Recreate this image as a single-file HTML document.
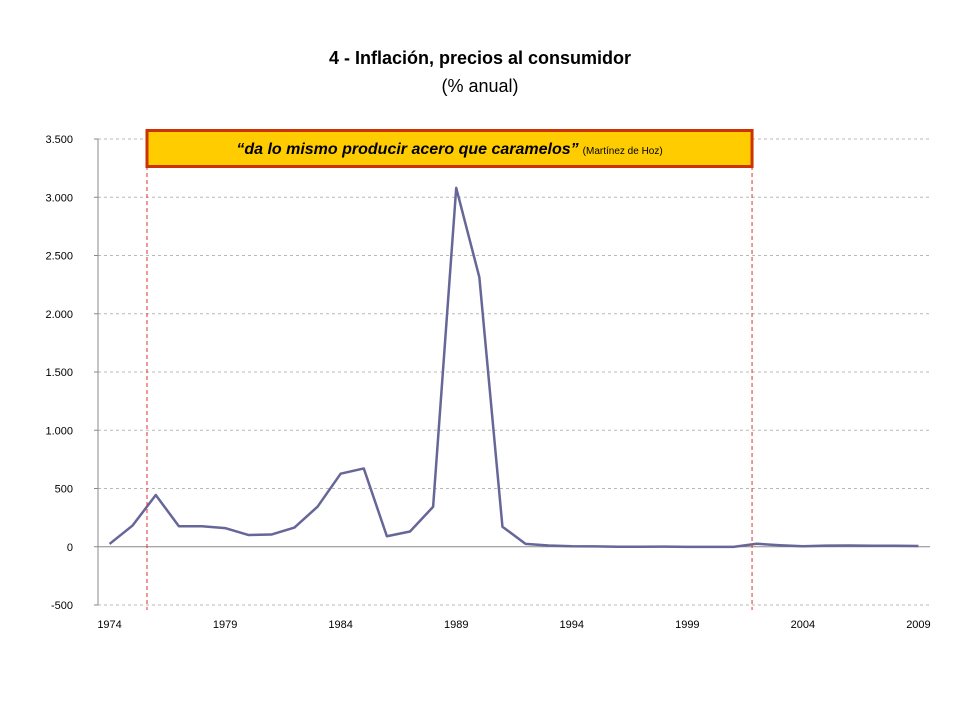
<!DOCTYPE html>
<html><head><meta charset="utf-8"><style>
body{margin:0;background:#fff;width:960px;height:720px;overflow:hidden}
text{font-family:"Liberation Sans",sans-serif}
</style></head><body>
<svg id="chart" width="960" height="720">
<text x="480" y="64" text-anchor="middle" font-size="18" font-weight="bold">4 - Inflación, precios al consumidor</text>
<text x="480" y="92" text-anchor="middle" font-size="18">(% anual)</text>
<g id="grid"></g><g id="axes"></g><g id="marks"></g><g id="annot"></g>
</svg>
<script>
const years=[1974,1975,1976,1977,1978,1979,1980,1981,1982,1983,1984,1985,1986,1987,1988,1989,1990,1991,1992,1993,1994,1995,1996,1997,1998,1999,2000,2001,2002,2003,2004,2005,2006,2007,2008,2009];
const inflation=[24,183,444,176,176,160,101,105,165,344,627,672,90,131,343,3080,2314,172,25,11,4,3,0,0.5,1,-1,-1,-1,26,13,4,10,11,9,9,6];
const yTicks=[-500,0,500,1000,1500,2000,2500,3000,3500];
const yTickLabels=["-500","0","500","1.000","1.500","2.000","2.500","3.000","3.500"];
const xTickLabels=["1974","1979","1984","1989","1994","1999","2004","2009"];
const eventYears=[1975.62,2001.8];
const NS="http://www.w3.org/2000/svg";
const L=98,R=930,T=139,B=605;
const catW=(R-L)/years.length;
const x=yr=>L+catW*(yr-years[0]+0.5);
const y=v=>B-(v+500)/4000*(B-T);
function mk(tag,attrs,parent){const e=document.createElementNS(NS,tag);for(const k in attrs)e.setAttribute(k,attrs[k]);document.getElementById(parent).appendChild(e);return e;}
yTicks.forEach((t,i)=>{
 if(t!==0){const g=mk('line',{x1:L,x2:R,y1:y(t),y2:y(t),stroke:'#b8b8b8','stroke-dasharray':'3,3'},'grid');
 
 }
 const tk=mk('line',{x1:L-4,x2:L,y1:y(t),y2:y(t),stroke:'#888'},'axes');
 
 
 const lb=mk('text',{x:L-25,y:y(t)+4,'text-anchor':'end','font-size':11},'axes');
 lb.textContent=yTickLabels[i];
 
 
});
const ya=mk('line',{x1:L,x2:L,y1:T,y2:B,stroke:'#888'},'axes');


const xa=mk('line',{x1:L,x2:R,y1:y(0),y2:y(0),stroke:'#888'},'axes');


xTickLabels.forEach(s=>{
 const lb=mk('text',{x:x(+s),y:628,'text-anchor':'middle','font-size':11},'axes');
 lb.textContent=s;
 
 
});
eventYears.forEach(ev=>{
 const l=mk('line',{x1:x(ev),x2:x(ev),y1:166,y2:610,stroke:'#dd3333','stroke-dasharray':'4,3'},'annot');
 
 
});
const pl=mk('polyline',{points:years.map((yr,i)=>x(yr)+','+y(inflation[i])).join(' '),fill:'none',stroke:'#666699','stroke-width':2.5,'stroke-linejoin':'round'},'marks');


const bx=x(eventYears[0]),bw=x(eventYears[1])-bx;
const box=mk('rect',{x:bx,y:130.5,width:bw,height:36,fill:'#ffcc00',stroke:'#cc3300','stroke-width':3},'annot');


const q=mk('text',{x:bx+bw/2,y:154,'text-anchor':'middle','font-size':15},'annot');


q.innerHTML='<tspan font-style="italic" font-weight="bold" font-size="16">“da lo mismo producir acero que caramelos”</tspan><tspan font-size="10" dx="4">(Martínez de Hoz)</tspan>';
</script>
</body></html>
